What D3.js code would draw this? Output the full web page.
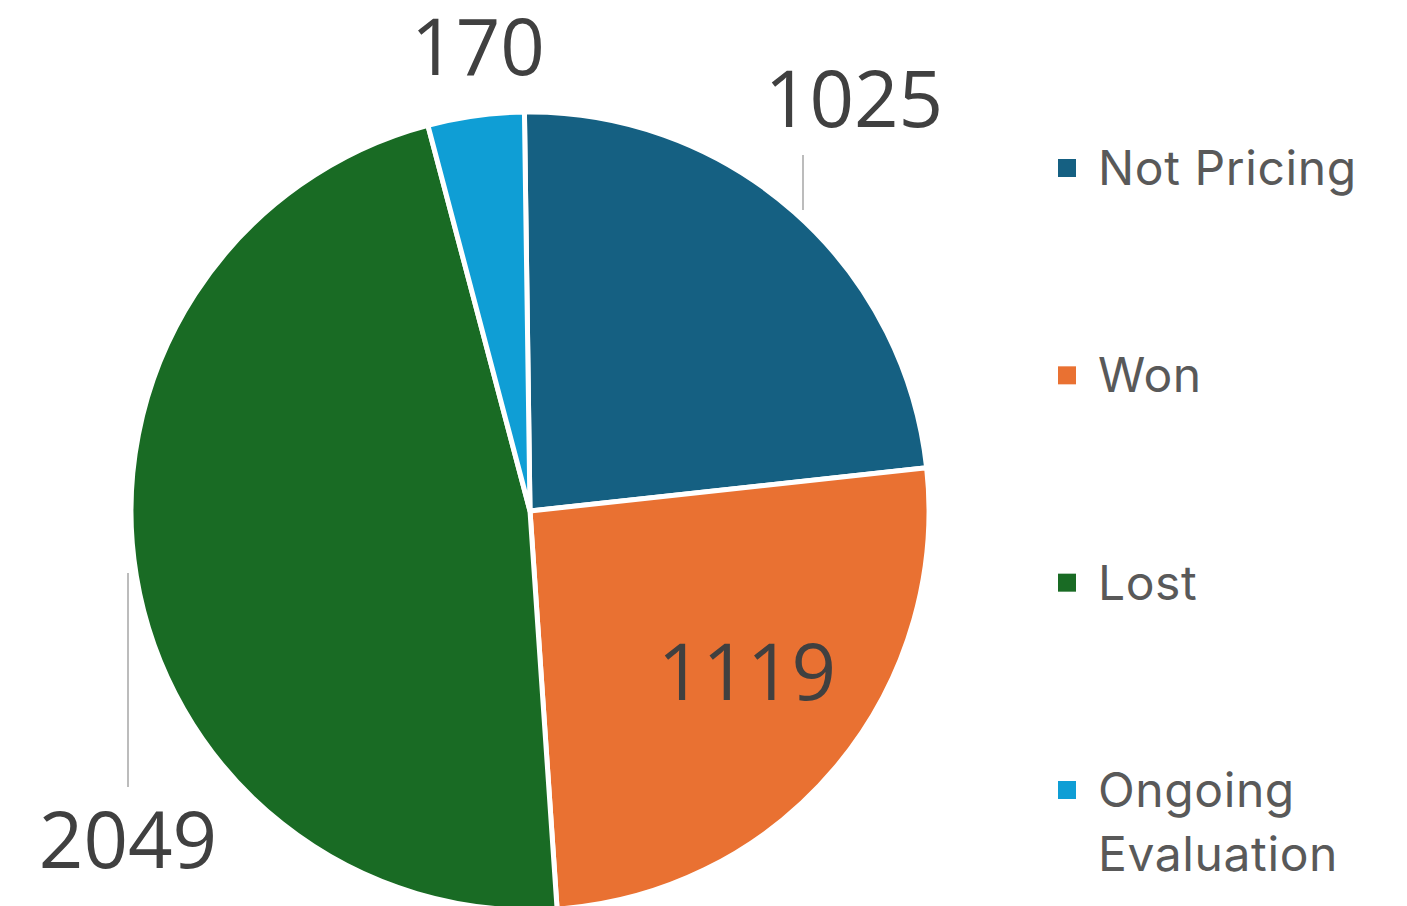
<!DOCTYPE html>
<html>
<head>
<meta charset="utf-8">
<script src="https://cdn.jsdelivr.net/npm/d3@7"></script>
<style>
  html, body { margin: 0; padding: 0; background: #ffffff; }
  .valueText { font-family: "Open Sans", sans-serif; fill: #404040; }
  .legendText { font-family: "Inter", "Open Sans", sans-serif; fill: #595959; }
</style>
</head>
<body>
<div id="chart"></div>
<script>
// Chart data
var categories = ["Not Pricing", "Won", "Lost", "Ongoing Evaluation"];
var values = [1025, 1119, 2049, 170];
var colors = ["#156082", "#E97132", "#196B24", "#0F9ED5"];

// SVG size
var width = 1407;
var height = 906;

var svg = d3.select("#chart")
    .append("svg")
    .attr("width", width)
    .attr("height", height);

// Pie geometry
var cx = 530;
var cy = 511;
var radius = 399;
var offset = -0.8 * Math.PI / 180;

var pie = d3.pie()
    .sort(null)
    .startAngle(offset)
    .endAngle(2 * Math.PI + offset);

var arc = d3.arc()
    .innerRadius(0)
    .outerRadius(radius);

var color = d3.scaleOrdinal()
    .domain(categories)
    .range(colors);

var slices = pie(values).map(function(d, i) {
    d.name = categories[i];
    return d;
});

var pieG = svg.append("g")
    .attr("transform", `translate(${cx}, ${cy})`);

pieG.selectAll("path.slice")
    .data(slices)
    .enter()
    .append("path")
    .attr("class", "slice")
    .attr("d", arc)
    .attr("fill", function(d) { return color(d.name); })
    .attr("stroke", "#ffffff")
    .attr("stroke-width", 5)
    .attr("stroke-linejoin", "round");

// Label placement (offsets from pie center) and leader lines
var labelPos = {
    "Not Pricing": { x: 324, y: -384, line: [[273, -356], [273, -301]] },
    "Won": { x: 217, y: 189, line: null },
    "Lost": { x: -402, y: 357, line: [[-402, 276], [-402, 62]] },
    "Ongoing Evaluation": { x: -52, y: -436, line: null }
};

pieG.selectAll("path.leader")
    .data(slices.filter(function(d) { return labelPos[d.name].line; }))
    .enter()
    .append("path")
    .attr("class", "leader")
    .attr("d", function(d) { return d3.line()(labelPos[d.name].line); })
    .attr("stroke", "#a6a6a6")
    .attr("stroke-width", 1.5)
    .attr("fill", "none");

pieG.selectAll("text.valueText")
    .data(slices)
    .enter()
    .append("text")
    .attr("class", "valueText")
    .attr("x", function(d) { return labelPos[d.name].x; })
    .attr("y", function(d) { return labelPos[d.name].y; })
    .attr("text-anchor", "middle")
    .attr("font-size", 78)
    .text(function(d) { return d.value; });

// Legend
var legendX = 1067;
var legendY = d3.scalePoint()
    .domain(categories)
    .range([168, 790]);

var legend = svg.selectAll("g.legendItem")
    .data(categories)
    .enter()
    .append("g")
    .attr("class", "legendItem")
    .attr("transform", function(d) { return `translate(${legendX}, ${legendY(d)})`; });

legend.append("rect")
    .attr("x", -9)
    .attr("y", -9)
    .attr("width", 18)
    .attr("height", 18)
    .attr("fill", function(d) { return color(d); });

// long labels wrap onto two lines
legend.append("text")
    .attr("class", "legendText")
    .attr("x", 31)
    .attr("y", 17)
    .attr("font-size", 48)
    .attr("letter-spacing", 0.6)
    .each(function(d) {
        var lines = d.length > 12 ? d.split(" ") : [d];
        var self = d3.select(this);
        lines.forEach(function(w, i) {
            self.append("tspan")
                .attr("x", 31)
                .attr("dy", i === 0 ? 0 : 64)
                .text(w);
        });
    });
</script>
</body>
</html>
